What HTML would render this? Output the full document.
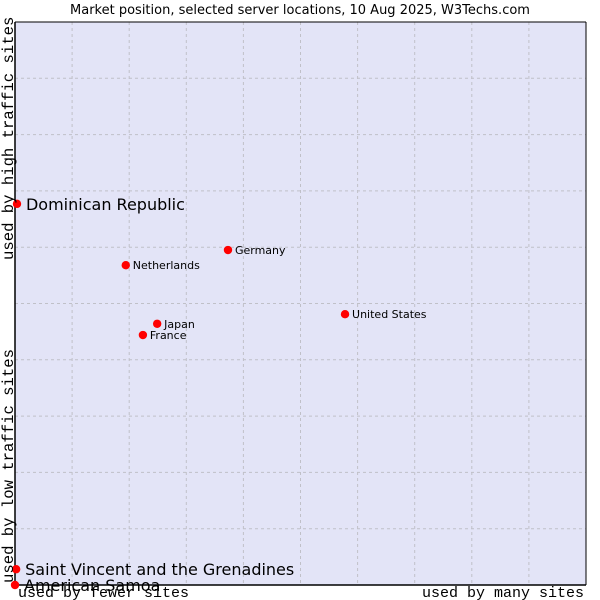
<!DOCTYPE html>
<html><head><meta charset="utf-8"><style>
body{margin:0;background:#fff;}
svg{display:block;font-family:"DejaVu Sans","Liberation Sans",sans-serif;}
</style></head><body>
<svg id="chart" width="600" height="600" viewBox="0 0 600 600">
<text x="300" y="14" font-size="13" text-anchor="middle" fill="#000">Market position, selected server locations, 10 Aug 2025, W3Techs.com</text>
<rect x="15" y="22" width="571" height="563" fill="#e3e4f7"/>
<g id="grid"></g>
<line x1="15" y1="22" x2="586" y2="22" stroke="#000"/>
<line x1="586" y1="22" x2="586" y2="585" stroke="#000"/>
<line x1="15" y1="22" x2="15" y2="585" stroke="#000" stroke-width="1.5"/>
<line x1="15" y1="585" x2="586" y2="585" stroke="#000" stroke-width="1.5"/>
<g id="points"></g>
<text x="18" y="597" font-family="Liberation Mono,monospace" font-size="15">used by fewer sites</text>
<text x="584" y="597" font-family="Liberation Mono,monospace" font-size="15" text-anchor="end">used by many sites</text>
<text transform="translate(13,583) rotate(-90)" font-family="Liberation Mono,monospace" font-size="15.6">used by low traffic sites</text>
<text transform="translate(13,260) rotate(-90)" font-family="Liberation Mono,monospace" font-size="15.6">used by high traffic sites</text>
</svg>
<script>
const names=["Dominican Republic","Saint Vincent and the Grenadines","American Samoa","Netherlands","Germany","United States","Japan","France"];
const xVals=[0.35,0.2,0,19.4,37.3,57.8,24.9,22.4];
const yVals=[67.7,2.8,0,56.8,59.5,48.1,46.4,44.4];
const bigLabel=[true,true,true,false,false,false,false,false];
const NS="http://www.w3.org/2000/svg";
const X0=15,X1=586,Y0=585,Y1=22;
const sx=v=>X0+v/100*(X1-X0);
const sy=v=>Y0-v/100*(Y0-Y1);
const grid=document.getElementById('grid');
for(let i=1;i<10;i++){
  const l=document.createElementNS(NS,'line');
  l.setAttribute('x1',sx(i*10));l.setAttribute('x2',sx(i*10));
  l.setAttribute('y1',Y1);l.setAttribute('y2',Y0);
  l.setAttribute('stroke','#c0c0c8');l.setAttribute('stroke-dasharray','3,3');
  
  
  grid.appendChild(l);
  const h=document.createElementNS(NS,'line');
  h.setAttribute('y1',sy(i*10));h.setAttribute('y2',sy(i*10));
  h.setAttribute('x1',X0);h.setAttribute('x2',X1);
  h.setAttribute('stroke','#c0c0c8');h.setAttribute('stroke-dasharray','3,3');
  
  
  grid.appendChild(h);
}
const pts=document.getElementById('points');
names.forEach((n,i)=>{
  const x=sx(xVals[i]),y=sy(yVals[i]);
  const c=document.createElementNS(NS,'circle');
  c.setAttribute('cx',x);c.setAttribute('cy',y);c.setAttribute('r',4.2);
  c.setAttribute('fill','#ff0000');
  
  
  pts.appendChild(c);
  const t=document.createElementNS(NS,'text');
  t.setAttribute('x',x+(bigLabel[i]?9:7));
  t.setAttribute('y',y+(bigLabel[i]?6:4));
  t.setAttribute('font-size',bigLabel[i]?16:11);
  t.setAttribute('fill','#000');
  t.textContent=n;
  
  
  pts.appendChild(t);
});
</script>
</body></html>
